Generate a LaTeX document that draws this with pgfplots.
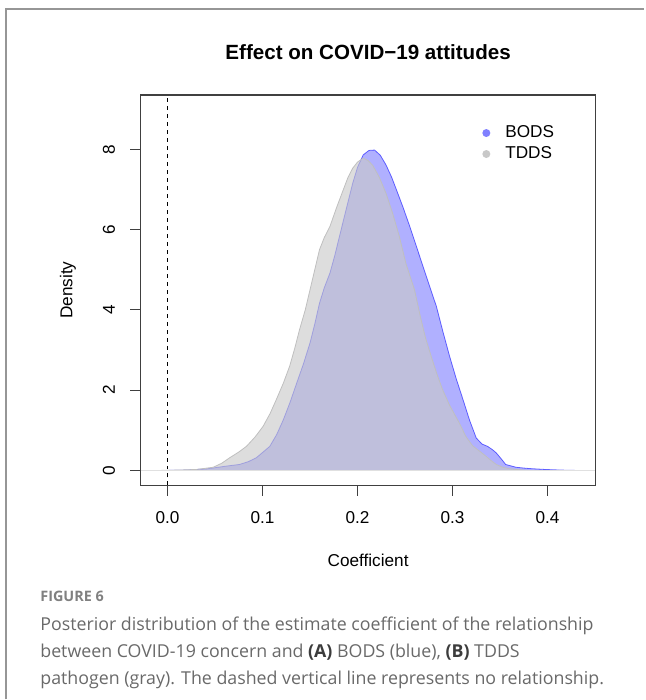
\documentclass[border=0pt]{standalone}
\usepackage{fontspec}
\setmainfont{Liberation Sans}
\newfontfamily\capfont{Open Sans}
\usepackage{pgfplots}
\pgfplotsset{compat=1.18}

\definecolor{bodsfill}{RGB}{0,0,255}
\definecolor{tddsfill}{RGB}{200,200,200}
\definecolor{bodsleg}{RGB}{128,128,255}
\definecolor{tddsleg}{RGB}{200,200,200}
\definecolor{framegray}{RGB}{150,150,150}
\definecolor{captext}{RGB}{105,105,105}
\definecolor{capbold}{RGB}{60,60,60}

\pgfplotstableread{
x y
-0.005 0
0.020 0.01
0.041 0.04
0.062 0.11
0.0756 0.15
0.085 0.22
0.0936 0.32
0.1076 0.60
0.115 0.90
0.122 1.27
0.129 1.70
0.136 2.18
0.143 2.65
0.150 3.18
0.155 3.65
0.160 4.17
0.165 4.55
0.171 4.92
0.176 5.35
0.181 5.83
0.188 6.50
0.195 7.16
0.200 7.55
0.206 7.86
0.212 7.97
0.218 7.98
0.224 7.85
0.230 7.61
0.236 7.30
0.241 6.99
0.248 6.55
0.255 6.08
0.262 5.58
0.269 5.08
0.276 4.58
0.283 4.09
0.290 3.45
0.297 2.84
0.304 2.28
0.311 1.77
0.318 1.25
0.325 0.81
0.331 0.66
0.337 0.60
0.342 0.52
0.346 0.44
0.351 0.30
0.356 0.15
0.367 0.08
0.380 0.05
0.398 0.025
0.415 0.01
0.433 0
}\bods

\pgfplotstableread{
x y
-0.012 0
0.010 0.01
0.030 0.025
0.048 0.08
0.057 0.18
0.0656 0.32
0.075 0.46
0.083 0.60
0.092 0.83
0.1006 1.10
0.108 1.42
0.1146 1.77
0.122 2.18
0.1286 2.60
0.134 3.05
0.139 3.51
0.145 4.00
0.150 4.50
0.155 5.00
0.160 5.50
0.165 5.80
0.171 6.08
0.178 6.55
0.185 6.99
0.190 7.30
0.195 7.53
0.200 7.68
0.206 7.78
0.211 7.72
0.216 7.60
0.223 7.30
0.230 6.90
0.237 6.40
0.244 5.83
0.251 5.15
0.260 4.50
0.266 3.85
0.2716 3.30
0.2776 2.84
0.2836 2.40
0.2896 2.01
0.297 1.62
0.307 1.19
0.314 0.85
0.321 0.62
0.328 0.49
0.334 0.38
0.340 0.26
0.346 0.15
0.353 0.08
0.360 0.045
0.367 0.025
0.381 0
}\tdds

\begin{document}
\begin{tikzpicture}
\path (0pt,0pt) rectangle (322.5pt,350pt);
\draw[framegray, line width=0.75pt] (3pt,0pt) -- (3pt,345.5pt) -- (322.5pt,345.5pt);
\node[anchor=base, inner sep=0pt, font=\fontsize{10.3}{12}\selectfont\bfseries] at (184.25pt,320pt) {Effect on COVID−19 attitudes};
\begin{axis}[
  at={(70.5pt,107pt)}, anchor=south west, scale only axis,
  width=227.5pt, height=195.5pt,
  xmin=-0.0281, xmax=0.4504, ymin=-0.373, ymax=9.353,
  axis line style={black!75, line width=0.6pt},
  xtick={0,0.1,0.2,0.3,0.4}, ytick={0,2,4,6,8},
  xticklabels={0.0,0.1,0.2,0.3,0.4},
  yticklabels={0,2,4,6,8},
  tick align=outside, tick pos=left, major tick length=5.25pt,
  tick style={black!75, line width=0.6pt},
  xticklabel style={font=\fontsize{8.6}{10}\selectfont, anchor=north, inner sep=0pt, yshift=-7.5pt},
  yticklabel style={font=\fontsize{8.6}{10}\selectfont, xshift=-7.5pt, rotate=90, anchor=south, inner sep=0pt},
  xlabel={Coefficient}, ylabel={Density},
  every axis x label/.style={at={(rel axis cs:0.5,0)}, yshift=-37.5pt, anchor=center, font=\fontsize{8.6}{10}\selectfont},
  every axis y label/.style={at={(rel axis cs:0,0.5)}, xshift=-36.5pt, rotate=90, anchor=center, font=\fontsize{8.6}{10}\selectfont},
  legend style={draw=none, fill=none, at={(axis cs:0.3310,8.70)}, anchor=north west,
    font=\fontsize{8.6}{10}\selectfont, inner sep=0pt, row sep=-1pt,
    /tikz/every odd column/.append style={column sep=5.5pt}},
  legend cell align=left,
  legend image code/.code={\fill[#1, draw=none] (2pt,0pt) circle (2pt);},
]
\addplot[fill=bodsfill, fill opacity=0.31, draw=bodsfill, draw opacity=0.55, line width=0.4pt, forget plot] table {\bods} \closedcycle;
\addplot[fill=tddsfill, fill opacity=0.62, draw=black!25, line width=0.4pt, forget plot] table {\tdds} \closedcycle;
\addplot[draw=black!12, line width=0.5pt, forget plot] coordinates {(-0.0281,0) (0.4504,0)};
\addplot[black, line width=0.5pt, dash pattern=on 2pt off 2pt, forget plot] coordinates {(0,-0.373) (0,9.353)};
\addlegendimage{fill=bodsleg, draw=none}
\addlegendentry{BODS}
\addlegendimage{fill=tddsleg, draw=none}
\addlegendentry{TDDS}
\end{axis}
\node[anchor=base west, inner sep=0pt, font=\fontsize{7.2}{9}\selectfont\capfont\bfseries, text=black!50] at (20pt,49.15pt) {FIGURE 6};
\begin{scope}[every node/.style={anchor=base west, inner sep=0pt, font=\fontsize{8.9}{10}\selectfont\capfont, text=captext}]
\node at (20pt,34.5pt) {Posterior distribution of the estimate coefficient of the relationship};
\node at (20pt,21pt) {between COVID-19 concern and {\color{capbold}\bfseries(A)} BODS (blue), {\color{capbold}\bfseries(B)} TDDS};
\node at (20pt,7.5pt) {pathogen (gray). The dashed vertical line represents no relationship.};
\end{scope}
\end{tikzpicture}
\end{document}
